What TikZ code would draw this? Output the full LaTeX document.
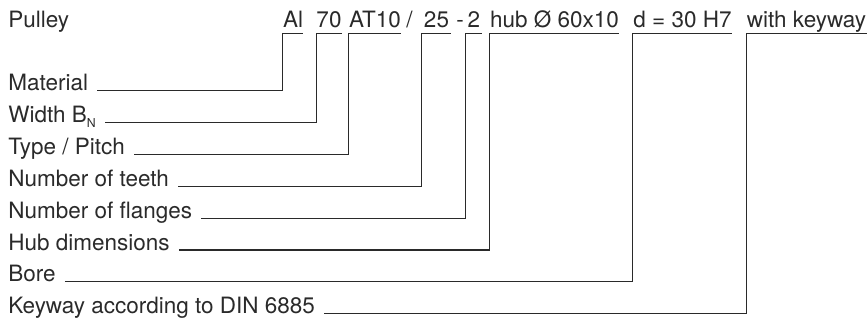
\documentclass[tikz,border=0pt]{standalone}
\usepackage{fontspec}
\setmainfont{TeX Gyre Heros}
\usepackage{tikz}
\usetikzlibrary{positioning}
\definecolor{inkgray}{HTML}{2A2A2A}

\begin{document}
\begin{tikzpicture}[
    x=0.02cm, y=-0.02cm,
    every node/.style={text=inkgray, font=\fontsize{12.8}{15}\selectfont},
    lbl/.style={anchor=base west, inner sep=0pt},
    code/.style={anchor=base, inner sep=0pt, text depth=0.12cm, minimum width=#1*0.02cm},
    lead/.style={draw=inkgray, line width=0.6pt},
]
\useasboundingbox (0,0) rectangle (867,325);

% designation line
\node[lbl] (title) at (8,27) {Pulley};
\node[code=20] (al) at (293,27) {Al};
\node[code=24] (width) at (329,27) {70};
\node[code=50] (pitch) at (375,27) {AT10};
\node[lbl] (slash) at (406,27) {/};
\node[code=29] (teeth) at (436.5,27) {25};
\node[lbl] (dash) at (456,27) {-};
\node[code=16] (flanges) at (474,27) {2};
\node[code=127] (hub) at (554.5,27) {hub Ø 60x10};
\node[code=99] (bore) at (682.5,27) {d = 30 H7};
\node[code=117] (keyway) at (806.5,27) {with keyway};

% explanations
\node[lbl] (lmaterial) at (8,90.5) {Material};
\node[lbl] (lwidth) at (8,122.4) {Width B\raisebox{-0.45ex}{\fontsize{7}{8}\selectfont N}};
\node[lbl] (lpitch) at (8,154.3) {Type / Pitch};
\node[lbl] (lteeth) at (8,186.2) {Number of teeth};
\node[lbl] (lflanges) at (8,218.1) {Number of flanges};
\node[lbl] (lhub) at (8,250) {Hub dimensions};
\node[lbl] (lbore) at (8,281.9) {Bore};
\node[lbl] (lkeyway) at (8,313.8) {Keyway according to DIN 6885};

\draw[lead] ([xshift=0.18cm]lmaterial.base east) -| (al.south west) -- (al.south east);
\draw[lead] ([xshift=0.18cm]lwidth.base east) -| (width.south west) -- (width.south east);
\draw[lead] ([xshift=0.18cm]lpitch.base east) -| (pitch.south west) -- (pitch.south east);
\draw[lead] ([xshift=0.18cm]lteeth.base east) -| (teeth.south west) -- (teeth.south east);
\draw[lead] ([xshift=0.18cm]lflanges.base east) -| (flanges.south west) -- (flanges.south east);
\draw[lead] ([xshift=0.18cm]lhub.base east) -| (hub.south west) -- (hub.south east);
\draw[lead] ([xshift=0.18cm]lbore.base east) -| (bore.south west) -- (bore.south east);
\draw[lead] ([xshift=0.18cm]lkeyway.base east) -| (keyway.south west) -- (keyway.south east);

\end{tikzpicture}
\end{document}
